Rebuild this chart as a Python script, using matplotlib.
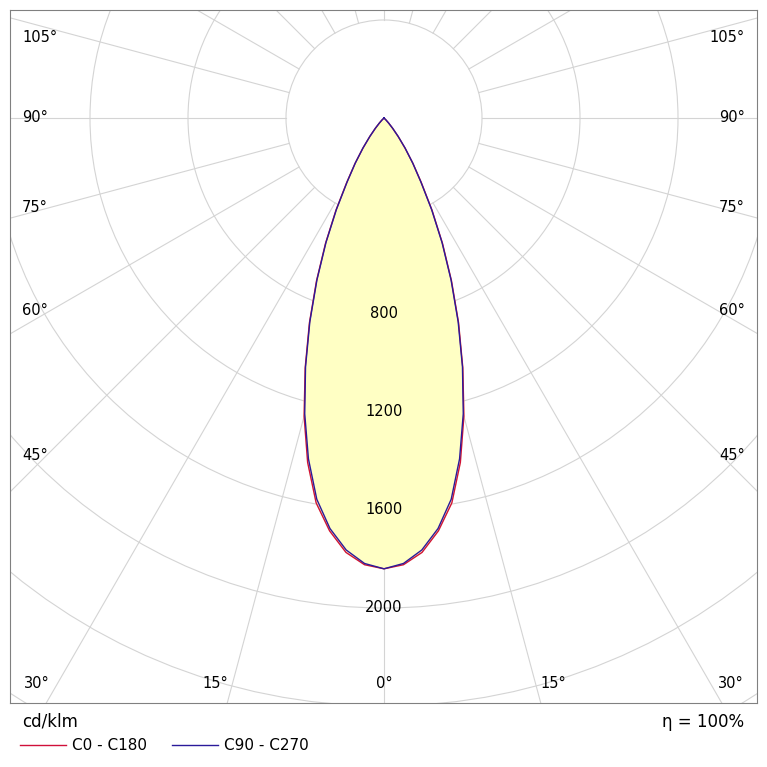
import numpy as np
import matplotlib
matplotlib.use("Agg")
import matplotlib.pyplot as plt
from matplotlib.patches import Circle

angles = [0, 2.5, 5, 7.5, 10, 12.5, 15, 17.5, 20, 22.5, 25, 27.5, 30, 32.5, 35, 37.5, 40, 42.5, 45, 50, 60, 90]
c0_c180 = [1840, 1825, 1780, 1700, 1595, 1440, 1260, 1070, 890, 720, 565, 425, 305, 220, 150, 95, 55, 28, 12, 0, 0, 0]
c90_c270 = [1840, 1820, 1770, 1690, 1580, 1425, 1250, 1065, 885, 715, 560, 420, 300, 218, 150, 95, 55, 28, 12, 0, 0, 0]
ring_values = [400, 800, 1200, 1600, 2000, 2400, 2800, 3200]
ring_labels = [800, 1200, 1600, 2000]
side_labels = [105, 90, 75, 60, 45]
side_label_px = [38, 117, 208, 311, 455]
bottom_labels = [30, 15, 0]
bottom_label_px = [37, 215, 384]

fig = plt.figure(figsize=(7.67, 7.67), dpi=100)
ax = fig.add_axes([10/767, 64/767, 747/767, 693/767])
s = 0.245
xmin, xmax = (10-384)/s, (757-384)/s
ymax, ymin = (118-10)/s, -(703-118)/s
ax.set_xlim(xmin, xmax); ax.set_ylim(ymin, ymax)
ax.set_xticks([]); ax.set_yticks([])
for sp in ax.spines.values():
    sp.set_color("#808080"); sp.set_linewidth(0.8)

gc = "#d4d4d4"
for r in ring_values:
    ax.add_patch(Circle((0, 0), r, fill=False, ec=gc, lw=0.8))
for a in range(0, 360, 15):
    t = np.radians(a)
    ax.plot([400*np.sin(t), 5000*np.sin(t)], [-400*np.cos(t), -5000*np.cos(t)], color=gc, lw=0.8)

def curve(vals):
    th = np.radians(np.array(angles, float))
    v = np.array(vals, float)
    th = np.concatenate([-th[::-1], th[1:]])
    v = np.concatenate([v[::-1], v[1:]])
    return v*np.sin(th), -v*np.cos(th)

x1, y1 = curve(c0_c180)
x2, y2 = curve(c90_c270)
ax.fill(x1, y1, color="#ffffc4", zorder=2)
ax.plot(x1, y1, color="#d0103a", lw=1, zorder=3)
ax.plot(x2, y2, color="#2a1a9a", lw=1, zorder=3)

for r in ring_labels:
    ax.text(0, -r, str(r), ha="center", va="center", fontsize=10.5, zorder=4)

def py(p):
    return 1 - p/767
def px(p):
    return p/767

for a, p in zip(side_labels, side_label_px):
    fig.text(px(22), py(p), f"{a}°", ha="left", va="center", fontsize=10.5)
    fig.text(px(745), py(p), f"{a}°", ha="right", va="center", fontsize=10.5)
for a, p in zip(bottom_labels, bottom_label_px):
    fig.text(px(p), py(684), f"{a}°", ha="center", va="center", fontsize=10.5)
    if a != 0:
        fig.text(px(768-p), py(684), f"{a}°", ha="center", va="center", fontsize=10.5)

fig.text(px(22), py(722), "cd/klm", fontsize=12, va="center")
fig.text(px(744), py(722), "η = 100%", fontsize=12, va="center", ha="right")
fig.add_artist(plt.Line2D([px(20), px(66)], [py(745)]*2, color="#d0103a", lw=1))
fig.text(px(72), py(745), "C0 - C180", fontsize=11, va="center")
fig.add_artist(plt.Line2D([px(172), px(218)], [py(745)]*2, color="#2a1a9a", lw=1))
fig.text(px(224), py(745), "C90 - C270", fontsize=11, va="center")

fig.savefig("out.png", dpi=100)
